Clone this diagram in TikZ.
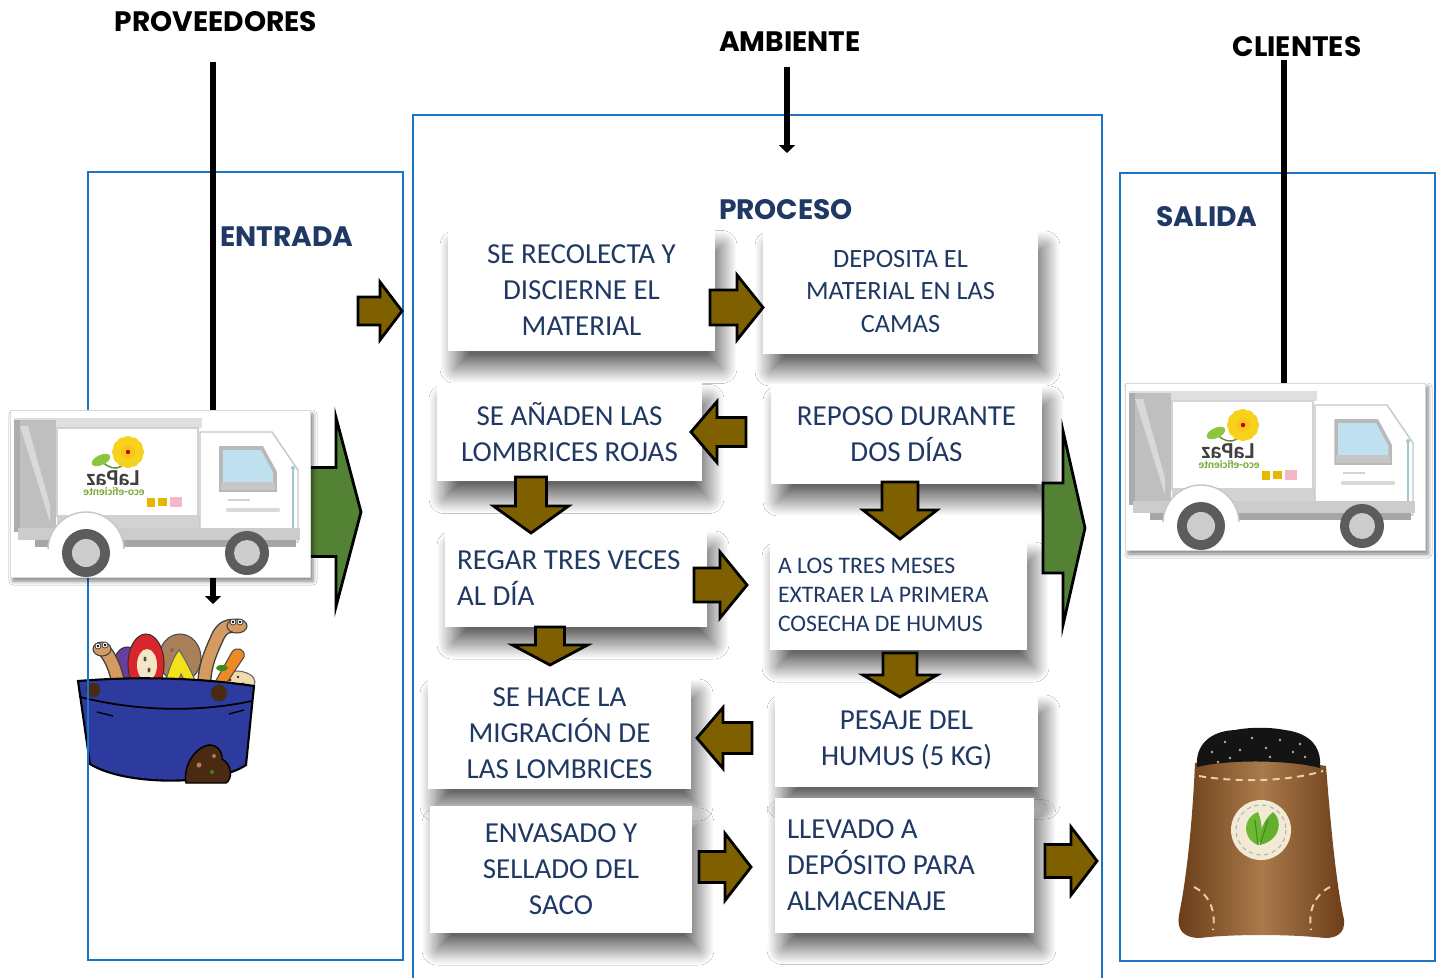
\documentclass[tikz,border=0pt]{standalone}
\usepackage{fontspec}
\setmainfont{Carlito}
\newfontfamily\titlefont{Poppins}
\usetikzlibrary{shadows.blur,arrows.meta}

\definecolor{navy}{HTML}{1F3864}
\definecolor{frameblue}{HTML}{1B75C6}
\definecolor{arrowbrown}{HTML}{7F6000}
\definecolor{arrowgreen}{HTML}{548235}
\definecolor{tubblue}{HTML}{2D3A9E}
\definecolor{wormtan}{HTML}{D39A62}
\definecolor{applered}{HTML}{D8262C}
\definecolor{applecream}{HTML}{F4E6C4}
\definecolor{cabbage}{HTML}{6A3E9E}
\definecolor{potato}{HTML}{A9805A}
\definecolor{bananay}{HTML}{F3E21A}
\definecolor{carrotor}{HTML}{EE8A25}
\definecolor{chipcream}{HTML}{F1DCAE}
\definecolor{dirtbrown}{HTML}{4A2A12}
\definecolor{sackdark}{HTML}{6A3C18}
\definecolor{sacklight}{HTML}{A97A4A}
\definecolor{sackstitch}{HTML}{E9D2A6}
\definecolor{labelcream}{HTML}{F3EAD6}
\definecolor{leafbright}{HTML}{6DB832}
\definecolor{leafdeep}{HTML}{3E8A1E}
\definecolor{windowblue}{HTML}{BEE0EF}
\definecolor{mirrorblue}{HTML}{9CC8D6}
\definecolor{wheeldark}{HTML}{5C5C5C}
\definecolor{petalyellow}{HTML}{F6D21C}
\definecolor{logogreen}{HTML}{8CC63F}
\definecolor{badgeyellow}{HTML}{E8B800}
\definecolor{badgepink}{HTML}{F3B7C6}

% a block arrow: style, centre, direction, length, head length, shaft width, head width
\newcommand{\blockarrow}[7]{%
  \path[#1, shift={(#2)}, rotate=#3]
    ({-(#4)/2},{-(#6)/2}) -- ({(#4)/2-(#5)},{-(#6)/2}) -- ({(#4)/2-(#5)},{-(#7)/2})
    -- ({(#4)/2},0) -- ({(#4)/2-(#5)},{(#7)/2}) -- ({(#4)/2-(#5)},{(#6)/2})
    -- ({-(#4)/2},{(#6)/2}) -- cycle;}

\tikzset{
  headtitle/.style={font=\titlefont\bfseries\fontsize{16}{16}\selectfont, text=black, inner sep=0pt},
  sectiontitle/.style={font=\titlefont\bfseries\fontsize{16}{16}\selectfont, text=navy, inner sep=0pt},
  frame/.style={draw=frameblue, line width=0.055cm},
  feedline/.style={draw=black, line width=0.13cm},
  procbox/.style={fill=white, inner sep=0pt, text=navy, align=center,
    font=\fontsize{16.5}{20.5}\selectfont,
    blur shadow={shadow xshift=0.14cm, shadow yshift=-0.34cm, shadow blur radius=0.3cm,
      shadow blur steps=30, shadow opacity=60}},
  worm/.style={line cap=round},
  brownarrow/.style={fill=arrowbrown, draw=black, line width=1.6pt, line join=miter},
  greenarrow/.style={fill=arrowgreen, draw=black, line width=1.6pt, line join=miter},
  truck/.pic={
    % white card behind the truck
    \path[fill=white, draw=gray!30, line width=0.5pt,
      blur shadow={shadow xshift=0.06cm, shadow yshift=-0.08cm, shadow blur radius=0.08cm, shadow opacity=50}]
      (0,0) rectangle (300,167);
    % rear hopper
    \fill[gray!25] (4,8) rectangle (192,18);
    \fill[gray!50] (4,10) rectangle (46,122);
    \fill[gray!30] (10,16) -- (18,16) -- (40,95) -- (40,112) -- cycle;
    \fill[gray!65] (4,10) rectangle (10,122);
    % cargo panel
    \draw[gray!35, fill=white, line width=0.8pt] (47,18) rectangle (188,106);
    \fill[gray!35] (47,106) rectangle (192,118);
    % cab
    \draw[gray!45, fill=white, line width=0.8pt] (190,22) -- (262,22) -- (288,60) -- (288,132) -- (190,132) -- cycle;
    \draw[gray!55, line width=2pt, fill=windowblue] (211,38) -- (252,38) -- (265,62) -- (265,80) -- (211,80) -- cycle;
    \fill[gray!45] (211,72) rectangle (265,80);
    \draw[gray!35, line width=0.8pt] (218,90) -- (240,90);
    \draw[gray!30, line width=2.5pt, line cap=round] (218,100) -- (268,100);
    \draw[mirrorblue, line width=1pt] (283,58) -- (283,130) -- (276,130);
    \fill[mirrorblue] (283,58) circle[radius=2];
    % chassis
    \fill[gray!40] (8,118) rectangle (290,130);
    \fill[gray!70] (25,130) rectangle (286,137);
    % rear fender
    \begin{scope}
      \clip (30,95) rectangle (125,138);
      \draw[gray!45, fill=white, line width=0.8pt] (76,140) circle[radius=38];
    \end{scope}
    % wheels
    \fill[wheeldark] (76,143) circle[radius=24];
    \fill[gray!40] (76,143) circle[radius=14];
    \fill[wheeldark] (237,143) circle[radius=22];
    \fill[gray!40] (237,143) circle[radius=13];
    % logo on the cargo panel
    \draw[logogreen!70!black, line width=0.8pt] (112,56) .. controls (106,60) and (98,58) .. (93,52);
    \fill[logogreen, rotate around={25:(91,50)}] (91,50) ellipse[x radius=10, y radius=5];
    \foreach \a in {0,30,...,330} \fill[petalyellow] (118,42) ++(\a:10) circle[radius=6];
    \fill[petalyellow!85!orange] (118,42) circle[radius=7];
    \fill[red!75!black] (118,42) circle[radius=2.2];
    \node[font=\bfseries\fontsize{13}{13}\selectfont, text=black!75, inner sep=0pt] (-brand) at (103,68) {\reflectbox{LaPaz}};
    \node[font=\bfseries\fontsize{6.5}{6.5}\selectfont, text=logogreen!85!black, inner sep=0pt] (-slogan) at (104,82) {\reflectbox{eco-eficiente}};
    \fill[badgeyellow] (137,88) rectangle (145,97);
    \fill[badgeyellow] (148,88) rectangle (157,96);
    \fill[badgepink] (160,87) rectangle (172,97);
  }
}

\begin{document}
\begin{tikzpicture}[x=0.02cm, y=-0.02cm]
\useasboundingbox[fill=white] (0,0) rectangle (1436,977);

% ---------- compost bucket ----------
\fill[cabbage, draw=black!80, line width=0.6pt] (127,668) ellipse[x radius=14, y radius=21];
\fill[potato, draw=black!70, line width=0.6pt] (180,658) ellipse[x radius=21, y radius=24];
\fill[dirtbrown!70] (172,650) circle[radius=2]; \fill[leafdeep] (186,668) circle[radius=2.5];
\fill[applered, draw=black!80, line width=0.6pt] (146,664) ellipse[x radius=18, y radius=30];
\fill[applecream] (147,665) ellipse[x radius=10, y radius=16];
\fill[black!70] (145,659) ellipse[x radius=1.5, y radius=2.5];
\fill[black!70] (149,670) ellipse[x radius=1.5, y radius=2.5];
\fill[chipcream, draw=black!60, line width=0.6pt] (236,682) ellipse[x radius=19, y radius=11];
\fill[dirtbrown] (230,680) circle[radius=1.6]; \fill[dirtbrown] (243,684) circle[radius=1.6]; \fill[dirtbrown] (238,677) circle[radius=1.3];
\fill[carrotor, draw=black!70, line width=0.6pt] (205,700) -- (232,652) .. controls (236,646) and (246,649) .. (244,657) -- (214,702) -- cycle;
\fill[leafdeep] (222,668) ellipse[x radius=6, y radius=3];
\fill[bananay, draw=black!60, line width=0.6pt] (162,702) .. controls (165,680) and (171,660) .. (179,650)
  .. controls (187,662) and (197,682) .. (202,700) .. controls (194,692) and (186,684) .. (181,674)
  .. controls (177,686) and (170,696) .. cycle;
% worms
\draw[worm, black!75, line width=8pt] (120,702) .. controls (120,680) and (113,660) .. (104,650);
\draw[worm, wormtan, line width=6.4pt] (120,702) .. controls (120,680) and (113,660) .. (104,650);
\draw[worm, black!75, line width=8pt] (206,698) .. controls (200,672) and (212,650) .. (218,636) .. controls (222,628) and (228,625) .. (234,626);
\draw[worm, wormtan, line width=6.4pt] (206,698) .. controls (200,672) and (212,650) .. (218,636) .. controls (222,628) and (228,625) .. (234,626);
\fill[wormtan, draw=black!75, line width=0.6pt] (102,649) ellipse[x radius=9, y radius=7];
\fill[wormtan, draw=black!75, line width=0.6pt] (237,626) ellipse[x radius=10, y radius=7];
\foreach \e in {(98,646),(105,645),(233,622),(240,622)} {
  \fill[white, draw=black!80, line width=0.4pt] \e circle[radius=3];
  \fill[black] \e circle[radius=1.4];
}
% the tub
\draw[line width=1.2pt, fill=tubblue] (78,681) .. controls (140,676) and (200,678) .. (254,686)
  -- (246,765) .. controls (215,786) and (125,786) .. (90,764) -- cycle;
\draw[line width=1pt] (80,697) .. controls (140,712) and (200,712) .. (252,701);
\draw[line width=0.8pt] (97,712) -- (113,716);
\draw[line width=0.8pt] (229,714) -- (244,710);
\fill[dirtbrown, draw=black!80, line width=0.5pt] (93,690) circle[radius=7];
\fill[dirtbrown, draw=black!80, line width=0.5pt] (219,693) circle[radius=8];
% compost heap beside the tub
\fill[dirtbrown, draw=black, line width=0.8pt] (186,783) .. controls (183,766) and (194,750) .. (205,746)
  .. controls (215,742) and (223,751) .. (222,759) .. controls (232,764) and (233,779) .. (226,783) -- cycle;
\fill[potato] (199,765) circle[radius=2.5]; \fill[leafdeep] (212,772) circle[radius=2]; \fill[potato] (214,756) circle[radius=2];

% ---------- section frames ----------
\draw[frame] (88,172) rectangle (403,960);
\draw[frame] (413,990) -- (413,115) -- (1102,115) -- (1102,990);
\draw[frame] (1120,173) rectangle (1435,961);

% ---------- feed lines ----------
\coordinate (provtop) at (213,62);
\coordinate (provend) at (213,604);
\coordinate (ambtop) at (787,67);
\coordinate (ambend) at (787,153);
\coordinate (clitop) at (1284,60);
\coordinate (cliend) at (1284,384);
\draw[feedline, -{Triangle[length=0.16cm, width=0.32cm]}] (provtop) -- (provend);
\draw[feedline, -{Triangle[length=0.16cm, width=0.32cm]}] (ambtop) -- (ambend);
\draw[feedline] (clitop) -- (cliend);

% ---------- input arrow and trucks ----------
\blockarrow{greenarrow}{335,512}{0}{52}{25}{89}{189}
\pic (truckin) at (10,410) {truck};
\pic (truckout) at (1125,383) {truck};

% ---------- sack of humus ----------
\path[left color=sackdark, right color=sackdark, middle color=sacklight]
  (1195,763) .. controls (1192,830) and (1186,880) .. (1179,915)
  .. controls (1176,932) and (1186,938) .. (1200,938)
  .. controls (1230,934) and (1290,934) .. (1325,938)
  .. controls (1340,938) and (1347,930) .. (1343,915)
  .. controls (1336,880) and (1331,830) .. (1326,766)
  .. controls (1290,760) and (1230,758) .. cycle;
\fill[black!92] (1197,767) .. controls (1195,745) and (1210,731) .. (1235,730)
  .. controls (1250,727) and (1270,727) .. (1285,730)
  .. controls (1308,733) and (1322,745) .. (1320,768) .. controls (1290,760) and (1230,759) .. cycle;
\foreach \d in {(1212,752),(1225,742),(1240,750),(1252,738),(1266,748),(1280,740),(1293,752),(1305,757),(1230,758),(1270,757),(1218,762),(1300,744)}
  \fill[gray!60] \d circle[radius=1.3];
\draw[sackstitch, line width=1.1pt, dash pattern=on 4pt off 3pt] (1199,776) .. controls (1240,783) and (1290,781) .. (1323,771);
\draw[sackstitch, line width=1.1pt, dash pattern=on 4pt off 3pt] (1194,887) .. controls (1210,895) and (1216,912) .. (1213,930);
\draw[sackstitch, line width=1.1pt, dash pattern=on 4pt off 3pt] (1330,887) .. controls (1314,895) and (1308,912) .. (1311,930);
\fill[labelcream] (1261,830) circle[radius=30];
\draw[gray!60, line width=0.6pt, dash pattern=on 2.5pt off 2pt] (1261,830) circle[radius=25];
\fill[leafbright] (1258,845) .. controls (1241,838) and (1243,817) .. (1258,812) .. controls (1263,825) and (1263,836) .. cycle;
\fill[leafbright!80!leafdeep] (1260,845) .. controls (1281,840) and (1283,820) .. (1273,812) .. controls (1263,820) and (1259,833) .. cycle;
\draw[leafdeep, line width=0.6pt] (1258,845) -- (1255,820);
\draw[leafdeep, line width=0.6pt] (1260,845) -- (1268,820);

% ---------- process steps ----------
\node[procbox, minimum width=5.34cm, minimum height=2.46cm] (b1) at (581.5,290)
  {SE RECOLECTA Y\\DISCIERNE EL\\MATERIAL};
\node[procbox, minimum width=5.5cm, minimum height=2.5cm, font=\fontsize{15}{18.5}\selectfont] (b2) at (900.5,291.5)
  {DEPOSITA EL\\MATERIAL EN LAS\\CAMAS};
\node[procbox, minimum width=5.3cm, minimum height=1.98cm] (b3) at (569.5,432)
  {SE AÑADEN LAS\\LOMBRICES ROJAS};
\node[procbox, minimum width=5.42cm, minimum height=2.0cm] (b4) at (906.5,434)
  {REPOSO DURANTE\\DOS DÍAS};
\node[procbox, align=flush left, text width=4.76cm, inner xsep=0.24cm, minimum height=1.96cm] (b5) at (576,578)
  {REGAR TRES VECES\\AL DÍA};
\node[procbox, align=flush left, text width=4.82cm, inner xsep=0.16cm, minimum height=2.2cm,
  font=\fontsize{13.5}{16.5}\selectfont] (b6) at (898.5,595)
  {A LOS TRES MESES\\EXTRAER LA PRIMERA\\COSECHA DE HUMUS};
\node[procbox, minimum width=5.26cm, minimum height=2.24cm] (b7) at (559.5,733)
  {SE HACE LA\\MIGRACIÓN DE\\LAS LOMBRICES};
\node[procbox, minimum width=5.26cm, minimum height=1.88cm] (b8) at (906.5,740)
  {PESAJE DEL\\HUMUS (5 KG)};
\node[procbox, minimum width=5.24cm, minimum height=2.54cm] (b9) at (561,869.5)
  {ENVASADO Y\\SELLADO DEL\\SACO};
\node[procbox, align=flush left, text width=4.7cm, inner xsep=0.24cm, minimum height=2.7cm] (b10) at (904.5,865)
  {LLEVADO A\\DEPÓSITO PARA\\ALMACENAJE};

% ---------- flow arrows ----------
\blockarrow{brownarrow}{380,311}{0}{44}{22}{28}{58}
\blockarrow{brownarrow}{736.5,307.5}{0}{53}{26}{35}{65}
\blockarrow{brownarrow}{718.5,432}{180}{55}{26}{29}{61}
\blockarrow{brownarrow}{531,505}{-90}{56}{27}{31}{75}
\blockarrow{brownarrow}{900,510.5}{-90}{57}{29}{36}{74}
\blockarrow{brownarrow}{720.5,585}{0}{53}{27}{34}{66}
\blockarrow{brownarrow}{550,646}{-90}{38}{20}{29}{75}
\blockarrow{brownarrow}{900,675}{-90}{44}{22}{34}{74}
\blockarrow{brownarrow}{724.5,738}{180}{55}{26}{31}{61}
\blockarrow{brownarrow}{725,867}{0}{52}{26}{31}{67}
\blockarrow{brownarrow}{1071,861}{0}{52}{26}{33}{68}
\blockarrow{greenarrow}{1064,528}{0}{42}{22}{90}{194}

% ---------- headings ----------
\node[headtitle] (proveedores) at (216,22) {PROVEEDORES};
\node[headtitle] (ambiente) at (790,42) {AMBIENTE};
\node[headtitle] (clientes) at (1297,47) {CLIENTES};
\node[sectiontitle] (entrada) at (287,237) {ENTRADA};
\node[sectiontitle] (proceso) at (786,210) {PROCESO};
\node[sectiontitle] (salida) at (1207,217) {SALIDA};
\end{tikzpicture}
\end{document}
